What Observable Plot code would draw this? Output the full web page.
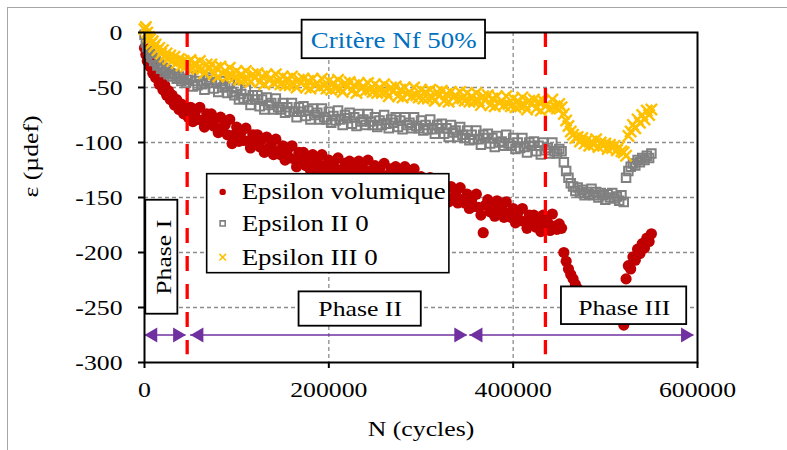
<!DOCTYPE html>
<html><head><meta charset="utf-8">
<script src="https://cdn.jsdelivr.net/npm/d3@7"></script>
<script src="https://cdn.jsdelivr.net/npm/@observablehq/plot@0.6"></script>
<style>
html,body{margin:0;padding:0;background:#fff;}
#wrap{position:relative;width:787px;height:450px;overflow:hidden;background:#fff;}
#frame{position:absolute;left:7px;top:7px;width:790px;height:450px;border-top:1.5px solid #a6a6a6;border-left:1.5px solid #a6a6a6;}
#chart{position:absolute;left:0;top:0;}
</style></head><body>
<div id="wrap"><div id="frame"></div><div id="chart"></div></div>
<script>
// ---- data (N in cycles, strains in µdef) ----
const cycles = [
0,1500,3000,4500,6000,7500,9000,10500,12000,14000,16000,18000,20000,22000,24000,26000,28000,30000,32500,35000,37500,40000,42500,45000,47500,
50000,52500,55000,57500,60000,62500,65000,67500,
70000,72500,75000,77500,80000,82500,85000,87500,
90000,92500,95000,97500,100000,102500,105000,107500,
110000,112500,115000,117500,120000,122500,125000,127500,
130000,132500,135000,137500,140000,142500,145000,147500,
150000,152500,155000,157500,160000,162500,165000,167500,
170000,172500,175000,177500,180000,182500,185000,187500,
190000,192500,195000,197500,200000,202500,205000,207500,
210000,212500,215000,217500,220000,222500,225000,227500,
230000,232500,235000,237500,240000,242500,245000,247500,
250000,252500,255000,257500,260000,262500,265000,267500,
270000,272500,275000,277500,280000,282500,285000,287500,
290000,292500,295000,297500,300000,302500,305000,307500,
310000,312500,315000,317500,320000,322500,325000,327500,
330000,332500,335000,337500,340000,342500,345000,347500,
350000,352500,355000,357500,360000,362500,365000,367500,
370000,372500,375000,377500,380000,382500,385000,387500,
390000,392500,395000,397500,400000,402500,405000,407500,
410000,412500,415000,417500,420000,422500,425000,427500,
430000,432500,435000,437500,440000,442500,445000,447500,
450000,
452500,455000,457500,460000,462500,465000,467500,470000,472500,475000,
477500,480000,482500,485000,487500,490000,492500,495000,497500,500000,
502500,505000,507500,510000,512500,515000,517500,520000,
522500,525000,527500,530000,532500,535000,537500,540000,542500,545000,547500,550000];
const epsVolumique = [
-14,-20,-26,-22,-31,-28,-37,-33,-41,-38,-47,-44,-52,-48,-57,-53,-61,-57,-66,-61,-70,-65,-74,-68,-77,
-68,-81,-72,-79,-68,-80,-86,-74,
-79,-74,-85,-78,-91,-77,-86,-84,
-93,-79,-101,-93,-86,-99,-90,-98,
-87,-99,-105,-93,-98,-93,-104,-97,
-109,-95,-105,-103,-111,-97,-108,-111,
-103,-116,-107,-114,-103,-115,-122,-109,
-114,-109,-121,-113,-125,-111,-120,-118,
-125,-111,-121,-125,-116,-128,-120,-126,
-114,-125,-132,-119,-123,-117,-129,-121,
-132,-117,-126,-124,-131,-116,-126,-130,
-121,-133,-124,-131,-119,-130,-137,-124,
-128,-122,-133,-126,-137,-122,-132,-130,
-138,-124,-135,-139,-131,-144,-136,-143,
-132,-144,-151,-138,-143,-138,-150,-142,
-154,-140,-150,-147,-155,-141,-152,-155,
-147,-160,-152,-158,-147,-159,-166,-182,
-157,-152,-163,-156,-167,-153,-163,-160,
-168,-154,-164,-168,-160,-173,-164,-171,
-160,-172,-178,-166,-171,-166,-177,-170,
-181,-166,-176,-173,-180,-165,-176,-179,
-174,
-178,-200,-208,-215,-220,-224,-229,-233,-238,-241,
-243,-245,-247,-248,-250,-251,-252,-253,-254,-255,
-256,-257,-258,-258,-259,-260,-261,-266,
-224,-212,-215,-204,-207,-197,-201,-192,-196,-187,-190,-183];
const epsII0 = [
-2,-9,-13,-17,-19,-22,-23,-26,-26,-30,-29,-33,-32,-36,-34,-38,-37,-40,-38,-42,-40,-44,-42,-46,-43,
-40,-49,-44,-48,-39,-47,-52,-43,
-46,-41,-51,-45,-54,-44,-50,-49,
-55,-46,-54,-57,-51,-61,-56,-60,
-52,-61,-66,-57,-61,-57,-67,-61,
-70,-59,-66,-64,-70,-60,-68,-70,
-64,-73,-68,-72,-64,-72,-77,-68,
-72,-67,-76,-71,-79,-69,-75,-73,
-79,-69,-77,-79,-72,-82,-76,-80,
-71,-79,-84,-75,-78,-73,-83,-77,
-85,-74,-81,-79,-84,-74,-81,-84,
-77,-86,-80,-84,-75,-83,-87,-79,
-82,-77,-86,-80,-88,-77,-84,-82,
-87,-77,-85,-87,-80,-89,-84,-88,
-79,-88,-92,-84,-87,-83,-92,-87,
-95,-84,-91,-89,-95,-86,-93,-96,
-89,-98,-93,-97,-89,-97,-102,-93,
-96,-92,-101,-96,-104,-94,-100,-99,
-103,-93,-101,-103,-96,-106,-100,-105,
-96,-104,-109,-100,-103,-99,-108,-103,
-111,-100,-107,-105,-110,-100,-108,-110,
-106,
-108,-118,-126,-132,-137,-140,-144,-141,-146,-143,
-148,-145,-147,-142,-148,-145,-150,-146,-148,-152,
-147,-150,-146,-151,-149,-153,-148,-154,
-132,-126,-122,-119,-121,-116,-118,-114,-116,-112,-114,-110];
const epsIII0 = [
3,5,0,-4,-6,-10,-8,-13,-11,-16,-14,-19,-16,-22,-19,-24,-21,-26,-22,-28,-24,-30,-26,-31,-27,
-25,-33,-28,-33,-26,-33,-37,-29,
-33,-29,-38,-32,-40,-31,-37,-35,
-40,-32,-39,-41,-35,-43,-38,-43,
-35,-42,-45,-38,-41,-37,-45,-40,
-47,-38,-43,-42,-46,-38,-44,-47,
-40,-48,-42,-48,-40,-47,-50,-43,
-46,-42,-50,-44,-51,-42,-48,-46,
-50,-42,-48,-51,-44,-52,-46,-51,
-43,-51,-54,-46,-49,-45,-53,-48,
-55,-46,-51,-49,-53,-46,-52,-54,
-47,-55,-50,-55,-47,-54,-58,-50,
-53,-49,-58,-52,-59,-50,-56,-54,
-58,-50,-57,-59,-52,-60,-54,-60,
-52,-59,-62,-54,-57,-53,-62,-56,
-63,-54,-59,-57,-61,-54,-60,-62,
-55,-63,-58,-63,-55,-62,-66,-58,
-61,-57,-66,-60,-67,-58,-64,-62,
-66,-58,-65,-67,-60,-68,-62,-67,
-59,-66,-70,-62,-65,-61,-69,-63,
-71,-62,-67,-65,-69,-61,-67,-69,
-65,
-68,-74,-80,-85,-90,-93,-96,-95,-99,-96,
-101,-98,-103,-99,-102,-97,-104,-100,-103,-101,
-106,-102,-105,-103,-107,-104,-108,-109,
-112,-94,-90,-84,-87,-79,-82,-75,-79,-71,-75,-70];
const seriesNames = ["Epsilon volumique", "Epsilon II 0", "Epsilon III 0"];
const xTicks = [0, 200000, 400000, 600000];
const yTicks = [0, -50, -100, -150, -200, -250, -300];
const nfLimits = [46300, 435000];
const phases = [
  {name: "Phase I",   x1: 0,      x2: 44900},
  {name: "Phase II",  x1: 50000,  x2: 350000},
  {name: "Phase III", x1: 352800, x2: 596000}
];
const criterionLabel = "Critère Nf 50%";
const xTitle = "N (cycles)";
const yTitle = "ε (µdef)";

// ---- styles / annotation layout ----
const RED = "#C00000", GRAY = "#808080", GOLD = "#FFC000", PURPLE = "#7030A0";
const arrowY = -275;
const legendBox = {x1: 68000, x2: 330800, y1: -128.8, y2: -218.8};
const legendRows = [
  {name: seriesNames[0], y: -144.9, symbol: "circle", fill: RED, stroke: "none", r: 4.5},
  {name: seriesNames[1], y: -173.6, symbol: "square", fill: "none", stroke: GRAY, r: 3.6},
  {name: seriesNames[2], y: -204.3, symbol: "times", fill: "none", stroke: GOLD, r: 4.2}
];
const legendSymX = 84800, legendTextX = 105400;
const phaseBoxes = [
  {x1: 1400,   x2: 36200,  y1: -152.5, y2: -256.1, label: "Phase I",   tx: 20900,  ty: -204.3, rotate: -90},
  {x1: 167700, x2: 300300, y1: -235.8, y2: -267,   label: "Phase II",  tx: 234000, ty: -251.5, rotate: 0},
  {x1: 452400, x2: 588300, y1: -231.3, y2: -265.5, label: "Phase III", tx: 520500, ty: -250,   rotate: 0}
];
const critBox = {x1: 171000, x2: 370000, y1: 11.2, y2: -23.8, tx: 270400, ty: -7};

const heads = phases.flatMap(p => [{x: p.x1, dir: -1}, {x: p.x2, dir: 1}]);

const chart = Plot.plot({
  width: 787, height: 450,
  marginLeft: 144, marginRight: 90, marginTop: 32, marginBottom: 88,
  x: {domain: [0, 600000]},
  y: {domain: [-300, 0]},
  style: {fontFamily: '"Liberation Serif", "Times New Roman", serif', fontSize: "22px", background: "transparent", color: "black"},
  marks: [
    Plot.gridY(yTicks.slice(1, -1), {stroke: "#8c8c8c", strokeOpacity: 1, strokeWidth: 1.3, strokeDasharray: "4,3"}),
    Plot.gridX(xTicks.slice(1, -1), {stroke: "#8c8c8c", strokeOpacity: 1, strokeWidth: 1.3, strokeDasharray: "4,3"}),
    Plot.dot(cycles, {x: d => d, y: epsVolumique, r: 5.6, fill: RED, stroke: "none"}),
    Plot.dot(cycles, {x: d => d, y: epsII0, symbol: "square", r: 4.8, fill: "none", stroke: GRAY, strokeWidth: 2}),
    Plot.dot(cycles, {x: d => d, y: epsIII0, symbol: "times", r: 5.2, fill: "none", stroke: GOLD, strokeWidth: 2.4}),
    Plot.ruleX(nfLimits, {x: d => d, y1: () => 0, y2: () => -293, stroke: "#FF0000", strokeWidth: 3.3, strokeDasharray: "15,13"}),
    Plot.ruleY(phases, {x1: "x1", x2: "x2", y: () => arrowY, stroke: PURPLE, strokeWidth: 1.6}),
    Plot.dot(heads.filter(h => h.dir < 0), {x: "x", y: () => arrowY, symbol: "triangle", rotate: -90, dx: 8.5, r: 5.5, fill: PURPLE, stroke: "none"}),
    Plot.dot(heads.filter(h => h.dir > 0), {x: "x", y: () => arrowY, symbol: "triangle", rotate: 90, dx: -8.5, r: 5.5, fill: PURPLE, stroke: "none"}),
    Plot.frame({stroke: "black", strokeWidth: 2}),
    // legend
    Plot.rect([legendBox], {x1: "x1", x2: "x2", y1: "y1", y2: "y2", fill: "white", stroke: "black", strokeWidth: 1.6}),
    Plot.dot(legendRows, {x: () => legendSymX, y: "y", symbol: "symbol", r: "r", fill: "fill", stroke: "stroke", strokeWidth: 1.6}),
    Plot.text(legendRows, {x: () => legendTextX, y: "y", text: "name", textAnchor: "start", lineAnchor: "middle", fontSize: 23, fill: "black"}),
    // criterion
    Plot.rect([critBox], {x1: "x1", x2: "x2", y1: "y1", y2: "y2", fill: "white", stroke: "black", strokeWidth: 1.8}),
    Plot.text([critBox], {x: "tx", y: "ty", text: () => criterionLabel, fontSize: 23, fill: "#0070C0", lineAnchor: "middle"}),
    // phases
    Plot.rect(phaseBoxes, {x1: "x1", x2: "x2", y1: "y1", y2: "y2", fill: "white", stroke: "black", strokeWidth: 1.8}),
    Plot.text(phaseBoxes, {x: "tx", y: "ty", text: "label", rotate: "rotate", fontSize: 22, fill: "black", lineAnchor: "middle"}),
    // axes
    Plot.axisY(yTicks, {tickSize: 6, tickPadding: 16, stroke: "black", strokeWidth: 2, tickFormat: d => String(d), label: null, fontSize: 22}),
    Plot.axisX(xTicks, {tickSize: 6, tickPadding: 13, stroke: "black", strokeWidth: 2, tickFormat: d => String(d), label: null, fontSize: 22}),
    Plot.text([xTitle], {frameAnchor: "bottom", dy: 66, lineAnchor: "middle", fontSize: 22, fill: "black"}),
    Plot.text([yTitle], {frameAnchor: "left", dx: -114, rotate: -90, lineAnchor: "middle", fontSize: 22, fill: "black"})
  ]
});
document.getElementById("chart").append(chart);
// the reference's serif text is horizontally wider: stretch glyphs slightly
chart.querySelectorAll("text").forEach(t => {
  const L = t.getComputedTextLength();
  if (L > 0) {
    t.setAttribute("textLength", (L * 1.17).toFixed(1));
    t.setAttribute("lengthAdjust", "spacingAndGlyphs");
  }
});
if (epsVolumique.length !== cycles.length || epsII0.length !== cycles.length || epsIII0.length !== cycles.length) {
  const w = document.createElement("div");
  w.textContent = "LENGTH MISMATCH " + cycles.length + " " + epsVolumique.length + " " + epsII0.length + " " + epsIII0.length;
  w.style.cssText = "position:absolute;left:10px;top:420px;color:blue;font:12px sans-serif";
  document.getElementById("wrap").append(w);
}
</script>
</body></html>
